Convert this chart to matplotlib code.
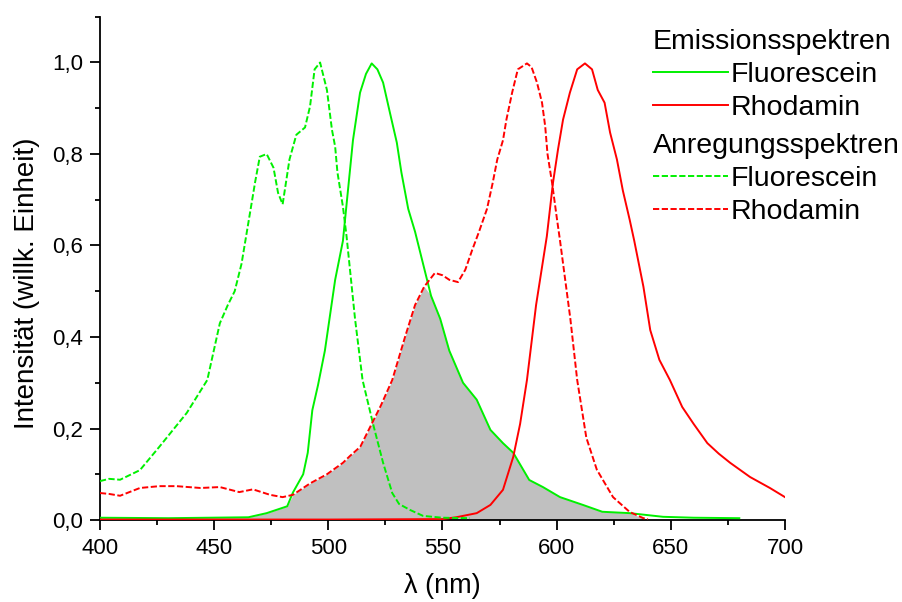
import numpy as np
import matplotlib
matplotlib.use("Agg")
import matplotlib.pyplot as plt
from matplotlib.ticker import MultipleLocator, FuncFormatter

plt.rcParams['font.family'] = ['Liberation Sans', 'DejaVu Sans']

# Emissionsspektren
em_fl_x = [400, 430, 465, 473, 482, 484.5, 489, 491, 493, 495.5, 498.5, 503, 506.4, 510.8,
           513.9, 516.5, 519, 521.5, 524, 527, 530, 532, 535, 538, 542, 545, 549, 553, 559,
           565, 571, 576.5, 581, 588, 594, 601.5, 611.5, 620, 632, 646.6, 660, 680]
em_fl_y = [0.005, 0.004, 0.006, 0.015, 0.03, 0.06, 0.10, 0.147, 0.24, 0.295, 0.37, 0.525, 0.61,
           0.83, 0.934, 0.975, 0.998, 0.985, 0.956, 0.89, 0.825, 0.76, 0.68, 0.63, 0.55, 0.49,
           0.44, 0.37, 0.30, 0.263, 0.197, 0.168, 0.147, 0.0875, 0.072, 0.05, 0.033, 0.018,
           0.015, 0.007, 0.005, 0.004]

em_rh_x = [400, 500, 550, 556, 565, 571, 576.5, 581, 584, 587, 591, 595.7, 598.4, 600.6, 602.8,
           605.8, 609, 612.4, 615.5, 618, 621, 623.4, 626.4, 629, 632, 634, 638, 641, 645,
           649.6, 655, 660, 666, 671, 676, 684.7, 693.4, 700]
em_rh_y = [0.001, 0.001, 0.002, 0.006, 0.015, 0.033, 0.066, 0.138, 0.21, 0.306, 0.47, 0.62,
           0.737, 0.81, 0.875, 0.934, 0.985, 0.998, 0.985, 0.94, 0.912, 0.847, 0.788, 0.72,
           0.656, 0.61, 0.51, 0.415, 0.35, 0.306, 0.247, 0.21, 0.168, 0.145, 0.125, 0.094,
           0.07, 0.05]

# Anregungsspektren
ex_fl_x = [400, 404, 408.8, 417.5, 426, 438, 447, 452.5, 456, 459, 462, 465, 468, 470, 473,
           476, 478, 480, 483, 486, 489.8, 492, 494, 496.4, 499.4, 501.6, 503, 504, 506.4,
           508, 511.7, 515, 519.6, 524, 528, 531, 535.8, 541.5, 550, 562]
ex_fl_y = [0.085, 0.09, 0.088, 0.109, 0.16, 0.234, 0.306, 0.43, 0.47, 0.50, 0.56, 0.65, 0.74,
           0.794, 0.80, 0.77, 0.715, 0.69, 0.788, 0.842, 0.858, 0.904, 0.985, 1.0, 0.94,
           0.853, 0.816, 0.76, 0.685, 0.62, 0.44, 0.306, 0.21, 0.125, 0.059, 0.035, 0.022,
           0.009, 0.005, 0.004]

ex_rh_x = [400, 404, 408.8, 417.5, 426, 433.5, 444, 452.5, 461, 467, 474.5, 480, 484.5, 492,
           499.4, 506.4, 509.5, 514, 518, 523, 528, 533.6, 538, 542, 546.7, 550, 553, 556.8,
           560, 563, 566, 569.5, 572, 574, 576.5, 578, 580.5, 583, 587, 589, 591.4, 593.6,
           595, 596, 598, 600, 601.5, 606, 609, 613, 617.6, 624.7, 632, 638, 640]
ex_rh_y = [0.059, 0.057, 0.053, 0.07, 0.074, 0.074, 0.07, 0.072, 0.061, 0.067, 0.055, 0.05,
           0.055, 0.08, 0.10, 0.125, 0.14, 0.16, 0.20, 0.25, 0.306, 0.40, 0.47, 0.51, 0.54,
           0.535, 0.525, 0.52, 0.547, 0.59, 0.63, 0.68, 0.737, 0.788, 0.83, 0.875, 0.934,
           0.985, 0.998, 0.99, 0.956, 0.912, 0.86, 0.80, 0.737, 0.663, 0.61, 0.44, 0.306,
           0.18, 0.11, 0.05, 0.0175, 0.004, 0.002]

green = '#00f000'
red = '#ff0000'
dash = (0, (3.2, 1.3))

fig = plt.figure(figsize=(9.03, 6.02), dpi=100)
ax = fig.add_axes([0.1107, 0.1362, 0.7586, 0.836])

# overlap of fluorescein emission and rhodamine excitation
grid = np.union1d(em_fl_x, ex_rh_x)
grid = grid[grid <= 640]
overlap = np.minimum(np.interp(grid, em_fl_x, em_fl_y), np.interp(grid, ex_rh_x, ex_rh_y))
ax.fill_between(grid, 0, overlap, color='#c0c0c0', lw=0, zorder=1)

l1, = ax.plot(em_fl_x, em_fl_y, color=green, lw=1.4, zorder=3)
l2, = ax.plot(em_rh_x, em_rh_y, color=red, lw=1.4, zorder=3)
l3, = ax.plot(ex_fl_x, ex_fl_y, color=green, lw=1.4, ls=dash, zorder=3)
l4, = ax.plot(ex_rh_x, ex_rh_y, color=red, lw=1.4, ls=dash, zorder=3)

ax.set_xlim(400, 700)
ax.set_ylim(0, 1.1)
ax.xaxis.set_major_locator(MultipleLocator(50))
ax.xaxis.set_minor_locator(MultipleLocator(25))
ax.yaxis.set_major_locator(MultipleLocator(0.2))
ax.yaxis.set_minor_locator(MultipleLocator(0.1))
ax.yaxis.set_major_formatter(FuncFormatter(lambda v, p: f"{v:.1f}".replace('.', ',')))
for s in ['top', 'right']:
    ax.spines[s].set_visible(False)
for s in ['left', 'bottom']:
    ax.spines[s].set_linewidth(1.3)
ax.tick_params(which='major', direction='out', length=7.2, width=1.3, labelsize=16)
ax.tick_params(which='minor', direction='out', length=3.6, width=1.3)
ax.tick_params(axis='x', which='major', pad=5.5)
ax.tick_params(axis='y', which='major', pad=5)

ax.set_xlabel('λ (nm)', fontsize=19.5, labelpad=10)
ax.set_ylabel('Intensität (willk. Einheit)', fontsize=20)
ax.yaxis.set_label_coords(-0.088, 0.471)

leg_kw = dict(frameon=False, fontsize=20.5, title_fontsize=20.5, alignment='left',
              handlelength=2.64, handletextpad=0.08, labelspacing=0.24,
              borderpad=0, borderaxespad=0, loc='upper left')
leg1 = fig.legend([l1, l2], ['Fluorescein', 'Rhodamin'], title='Emissionsspektren',
                  bbox_to_anchor=(0.723, 0.951), **leg_kw)
leg2 = fig.legend([l3, l4], ['Fluorescein', 'Rhodamin'], title='Anregungsspektren',
                  bbox_to_anchor=(0.723, 0.779), **leg_kw)

fig.savefig('out.png', dpi=100)
